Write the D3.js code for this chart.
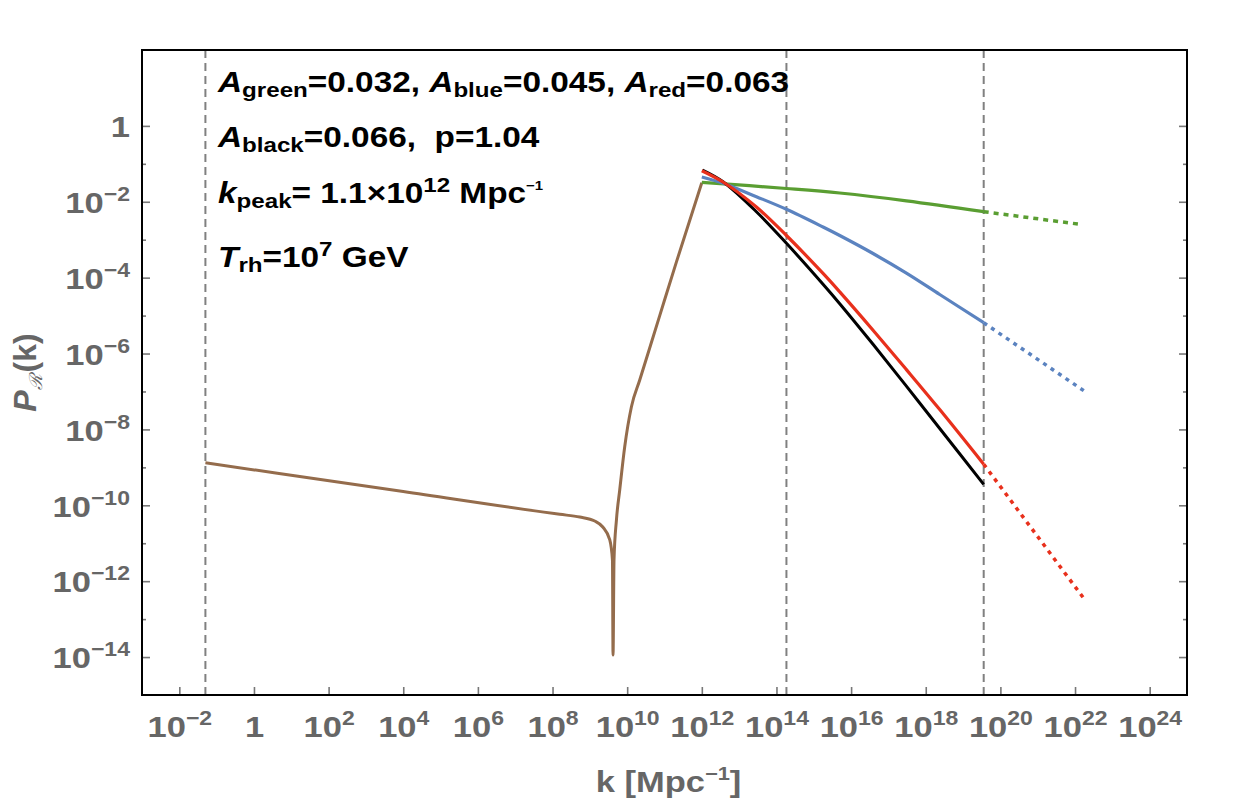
<!DOCTYPE html>
<html>
<head>
<meta charset="utf-8">
<script src="https://cdn.jsdelivr.net/npm/d3@7"></script>
<style>
body { margin: 0; background: #fff; }
svg { font-family: "Liberation Sans", Arial, sans-serif; }
</style>
</head>
<body>
<div id="chart"></div>
<script>
// curve values (k in Mpc^-1, P dimensionless)
var brownK = [0.05, 1e4, 1.56e8, 5.36e8, 1.35e9, 2.22e9, 3.42e9, 4.03e9, 4.18e9, 4.44e9, 5.15e9, 6.31e9, 8.59e9, 1.3e10, 2.17e10, 7.45e10, 2.09e11, 1e12];
var brownP = [1.32e-9, 2.3e-10, 5.78e-11, 4.91e-11, 3.86e-11, 2.68e-11, 1.22e-11, 3.6e-12, 1.13e-14, 3.6e-12, 4.09e-11, 2.53e-10, 3.5e-9, 3.97e-8, 2.0e-7, 1.0e-5, 2.6e-4, 0.032];

var greenK = [1e12, 1.85e14, 4.96e15, 3.03e17, 3.57e19];
var greenP = [0.0326, 0.0224, 0.0170, 0.0106, 5.47e-3];
var greenDotK = [3.57e19, 1.34e22];
var greenDotP = [5.47e-3, 2.55e-3];

var blueK = [1e12, 3.7e12, 2.9e13, 1.85e14, 1.77e15, 4.96e15, 3.87e16, 3.03e17, 2.37e18, 3.57e19];
var blueP = [0.045, 0.0307, 0.0136, 6.33e-3, 2.16e-3, 1.29e-3, 4.33e-4, 1.32e-4, 3.6e-5, 6.49e-6];
var blueDotK = [3.57e19, 1.71e22];
var blueDotP = [6.49e-6, 1.05e-7];

var redK = [1e12, 3.7e12, 2.9e13, 1.85e14, 1.77e15, 4.96e15, 3.87e16, 3.03e17, 2.37e18, 3.57e19];
var redP = [0.0659, 0.0332, 7.28e-3, 1.29e-3, 1.29e-4, 4.21e-5, 4.12e-6, 3.77e-7, 3.33e-8, 1.21e-9];
var redDotK = [3.57e19, 1.71e22];
var redDotP = [1.21e-9, 3.53e-13];

var blackK = [1.04e12, 3.7e12, 2.9e13, 1.85e14, 1.77e15, 4.96e15, 3.87e16, 3.03e17, 2.37e18, 3.57e19];
var blackP = [0.0687, 0.0338, 5.47e-3, 8.04e-4, 6.71e-5, 2.06e-5, 1.75e-6, 1.38e-7, 1.06e-8, 3.57e-10];

// vertical reference lines
var vlineK = [0.05, 1.85e14, 3.57e19];

// tick exponents
var xTickExp = [-2, 0, 2, 4, 6, 8, 10, 12, 14, 16, 18, 20, 22, 24];
var yTickExp = [-14, -12, -10, -8, -6, -4, -2, 0];
var yMinorExp = [-13, -11, -9, -7, -5, -3, -1];

// set the dimensions and margins of the graph
var margin = {top: 50, right: 63, bottom: 116, left: 142},
    width = 1250 - margin.left - margin.right,
    height = 811 - margin.top - margin.bottom;

var x = d3.scaleLog().domain([1e-3, 1e25]).range([0, width]);
var y = d3.scaleLog().domain([1e-15, 1e2]).range([height, 0]);

var svg = d3.select("#chart").append("svg")
    .attr("width", width + margin.left + margin.right)
    .attr("height", height + margin.top + margin.bottom)
  .append("g")
    .attr("transform", "translate(" + margin.left + "," + margin.top + ")");

var grey = "#666";
var sx = 1.15; // the source figure's lettering is a bit wide
var pow = function(e) { return Math.pow(10, e); };

// turn a tick value into 10^e with a real superscript
function powLabel(sel, supSize) {
  sel.each(function(d) {
    var e = Math.round(Math.log10(d));
    var t = d3.select(this).text(null);
    if (e === 0) { t.text("1"); return; }
    t.append("tspan").text("10");
    t.append("tspan").attr("dy", -12).style("font-size", supSize + "px")
      .text(e < 0 ? "\u2212" + (-e) : String(e));
  });
}

function styleAxis(g) {
  g.select(".domain").remove();
  g.selectAll(".tick line").attr("stroke", "#777").attr("stroke-width", 1.6);
  g.selectAll(".tick text").attr("fill", grey).style("font-size", "30px").style("font-weight", "bold")
    .attr("transform", "scale(" + sx + ",1)");
}

// vertical dashed lines
svg.selectAll(".vline")
    .data(vlineK)
    .enter().append("line")
    .attr("class", "vline")
    .attr("x1", function(d) { return x(d); })
    .attr("x2", function(d) { return x(d); })
    .attr("y1", 0)
    .attr("y2", height)
    .attr("stroke", "#808080")
    .attr("stroke-width", 2)
    .attr("stroke-dasharray", "8,5");

// curves
var lineBrown = d3.line()
    .x(function(d) { return x(d[0]); })
    .y(function(d) { return y(d[1]); })
    .curve(d3.curveMonotoneX);

var lineSmooth = d3.line()
    .x(function(d) { return x(d[0]); })
    .y(function(d) { return y(d[1]); })
    .curve(d3.curveCatmullRom.alpha(0.5));

var series = [
  {k: brownK, p: brownP, color: "#946c4c", dash: null, w: 3, gen: lineBrown},
  {k: greenK, p: greenP, color: "#5a9e32", dash: null, w: 3.2, gen: lineSmooth},
  {k: greenDotK, p: greenDotP, color: "#5a9e32", dash: "5,5", w: 3.5, gen: lineSmooth},
  {k: blueK, p: blueP, color: "#5b83c0", dash: null, w: 3.2, gen: lineSmooth},
  {k: blueDotK, p: blueDotP, color: "#5b83c0", dash: "4,5", w: 3.5, gen: lineSmooth},
  {k: blackK, p: blackP, color: "#000", dash: null, w: 3, gen: lineSmooth},
  {k: redK, p: redP, color: "#e8301c", dash: null, w: 3.2, gen: lineSmooth},
  {k: redDotK, p: redDotP, color: "#e8301c", dash: "4,5", w: 3.5, gen: lineSmooth}
];

svg.selectAll(".curve")
    .data(series)
    .enter().append("path")
    .attr("class", "curve")
    .attr("fill", "none")
    .attr("stroke", function(d) { return d.color; })
    .attr("stroke-width", function(d) { return d.w; })
    .attr("stroke-dasharray", function(d) { return d.dash; })
    .attr("d", function(d) { return d.gen(d.k.map(function(k, i) { return [k, d.p[i]]; })); });

// axes
var gx = svg.append("g")
    .attr("transform", "translate(0," + height + ")")
    .call(d3.axisBottom(x).tickValues(xTickExp.map(pow)).tickSizeInner(-8).tickSizeOuter(0).tickPadding(21));
styleAxis(gx);
gx.selectAll(".tick text").call(powLabel, 20);

var gy = svg.append("g")
    .call(d3.axisLeft(y).tickValues(yTickExp.map(pow)).tickSizeInner(-8).tickSizeOuter(0).tickPadding(10.5));
styleAxis(gy);
gy.selectAll(".tick text").attr("dy", "0.36em").call(powLabel, 20);

var gyMinor = svg.append("g")
    .call(d3.axisLeft(y).tickValues(yMinorExp.map(pow)).tickSizeInner(-4).tickSizeOuter(0).tickFormat(""));
styleAxis(gyMinor);

var gr = svg.append("g")
    .attr("transform", "translate(" + width + ",0)")
    .call(d3.axisRight(y).tickValues(yTickExp.map(pow)).tickSizeInner(-8).tickSizeOuter(0).tickFormat(""));
styleAxis(gr);

var grMinor = svg.append("g")
    .attr("transform", "translate(" + width + ",0)")
    .call(d3.axisRight(y).tickValues(yMinorExp.map(pow)).tickSizeInner(-4).tickSizeOuter(0).tickFormat(""));
styleAxis(grMinor);

// frame
svg.append("rect")
    .attr("width", width)
    .attr("height", height)
    .attr("fill", "none")
    .attr("stroke", "#000")
    .attr("stroke-width", 2);

// axis titles
var xt = svg.append("text")
    .attr("transform", "translate(" + (width / 2 + 4) + "," + (height + 97) + ") scale(" + sx + ",1)")
    .attr("text-anchor", "middle")
    .attr("fill", grey)
    .style("font-size", "30px")
    .style("font-weight", "bold");
xt.append("tspan").text("k [Mpc");
xt.append("tspan").attr("dy", -12).style("font-size", "19px").text("\u22121");
xt.append("tspan").attr("dy", 12).text("]");

var yt = svg.append("text")
    .attr("transform", "translate(" + (-106) + "," + (height / 2) + ") rotate(-90)")
    .attr("text-anchor", "middle")
    .attr("fill", grey)
    .style("font-size", "32px")
    .style("font-weight", "bold");
yt.append("tspan").style("font-style", "italic").text("P");
yt.append("tspan").attr("dy", 6).style("font-size", "18px").style("font-weight", "normal").style("font-style", "italic").text("\u211B");
yt.append("tspan").attr("dy", -6).attr("dx", 2).text("(k)");

// annotation block
var note = svg.append("g")
    .attr("transform", "translate(76,0) scale(" + sx + ",1)")
    .style("font-size", "29px")
    .style("font-weight", "bold")
    .attr("fill", "#000");

function addSym(t, sym, sub) {
  t.append("tspan").style("font-style", "italic").text(sym);
  t.append("tspan").attr("dy", 5).style("font-size", "21px").text(sub);
}

var l1 = note.append("text").attr("y", 42);
addSym(l1, "A", "green");
l1.append("tspan").attr("dy", -5).text("=0.032, ");
addSym(l1, "A", "blue");
l1.append("tspan").attr("dy", -5).text("=0.045, ");
addSym(l1, "A", "red");
l1.append("tspan").attr("dy", -5).text("=0.063");

var l2 = note.append("text").attr("y", 97).style("white-space", "pre");
addSym(l2, "A", "black");
l2.append("tspan").attr("dy", -5).text("=0.066,  p=1.04");

var l3 = note.append("text").attr("y", 153).style("white-space", "pre");
addSym(l3, "k", "peak");
l3.append("tspan").attr("dy", -5).text("= 1.1\u00d710");
l3.append("tspan").attr("dy", -11).style("font-size", "21px").text("12");
l3.append("tspan").attr("dy", 11).text(" Mpc");
l3.append("tspan").attr("dy", -13).style("font-size", "13px").text("\u22121");

var l4 = note.append("text").attr("y", 217).style("white-space", "pre");
addSym(l4, "T", "rh");
l4.append("tspan").attr("dy", -5).text("=10");
l4.append("tspan").attr("dy", -11).style("font-size", "21px").text("7");
l4.append("tspan").attr("dy", 11).text(" GeV");
</script>
</body>
</html>
